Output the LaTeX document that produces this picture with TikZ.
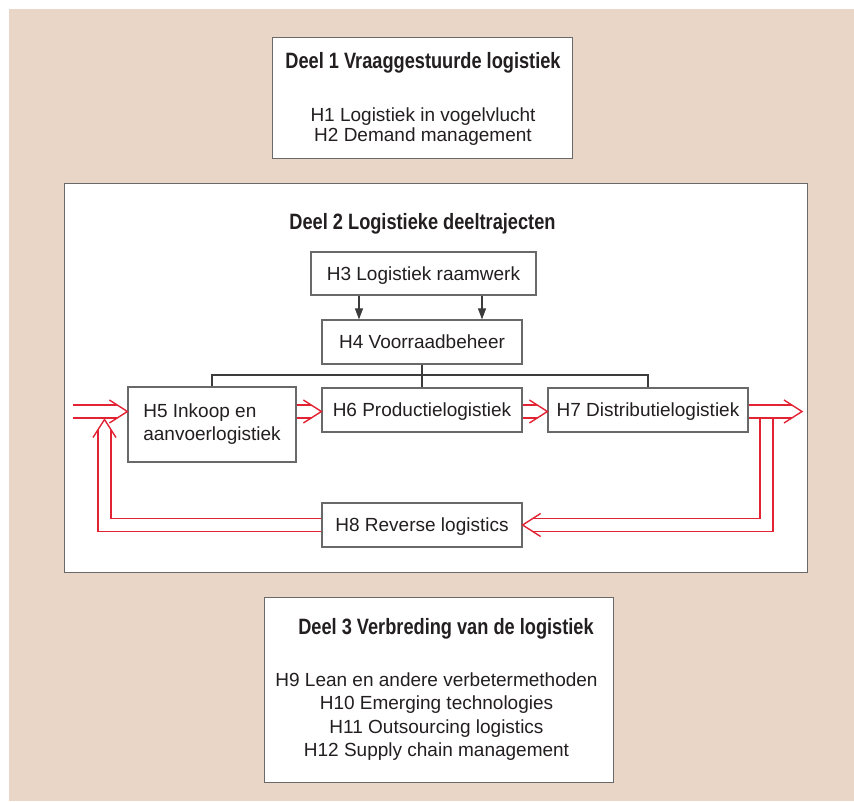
\documentclass[tikz,border=0pt]{standalone}
\usepackage{fontspec}
\setmainfont{Liberation Sans}
\newfontfamily\deelfont{Liberation Sans}[FakeStretch=0.82]
\usetikzlibrary{arrows.meta,positioning}
\definecolor{pagebeige}{RGB}{233,214,198}
\definecolor{flowred}{RGB}{226,35,52}
\definecolor{framegray}{RGB}{105,105,105}
\definecolor{linegray}{RGB}{60,60,60}
\definecolor{inkblack}{RGB}{35,31,32}
\tikzset{
  partframe/.style={draw=framegray, line width=1.3pt, fill=white,
    inner sep=0pt, anchor=north west},
  parttitle/.style={font=\deelfont\bfseries\fontsize{22.2}{26}\selectfont,
    text=inkblack, inner sep=0pt, anchor=base},
  parttext/.style={font=\fontsize{19}{20}\selectfont, text=inkblack,
    align=center, inner sep=0pt, anchor=north},
  chapterbox/.style={draw=framegray, line width=1.2pt, fill=white,
    inner sep=0pt, text=inkblack, font=\fontsize{19}{23}\selectfont,
    minimum width=200pt, minimum height=44pt},
  oneline/.style={text height=13.2pt, text depth=0pt},
  feed/.style={draw=linegray, line width=1.1pt},
  flow/.style={draw=flowred, line width=1.4pt, double=white,
    double distance=11.6pt, shorten >=10pt},
  flowhead/.pic={\draw[flowred, line width=1.4pt] (-18,-11.5) -- (0,0) -- (-18,11.5);}
}

\begin{document}
\begin{tikzpicture}[x=1pt,y=-1pt]
  % Page and part frames
  \useasboundingbox (0,0) rectangle (854,801);
  \fill[white] (0,0) rectangle (854,801);
  \fill[pagebeige] (9,9) rectangle (854,801);
  \node[partframe, minimum width=300pt, minimum height=121pt] (deel1) at (272,37) {};
  \node[partframe, minimum width=743pt, minimum height=389pt] (deel2) at (64,183) {};
  \node[partframe, minimum width=349pt, minimum height=185pt] (deel3) at (264,597) {};

  % Part 1
  \node[parttitle] (title1) at (423,68) {Deel 1 Vraaggestuurde logistiek};
  \node[parttext] (list1) at (423,107.5)
    {H1 Logistiek in vogelvlucht\\H2 Demand management};

  % Part 2
  \node[parttitle] (title2) at (422.5,229) {Deel 2 Logistieke deeltrajecten};
  \node[chapterbox, oneline, minimum width=225pt, minimum height=43pt] (h3)
    at (423.5,273.5) {H3 Logistiek raamwerk};
  \node[chapterbox, oneline] (h4) at (422,342) {H4 Voorraadbeheer};
  \node[chapterbox, align=left, minimum width=168pt, minimum height=75pt] (h5)
    at (212,424.5) {H5 Inkoop en\\aanvoerlogistiek};
  \node[chapterbox, oneline] (h6) at (422,410) {H6 Productielogistiek};
  \node[chapterbox, oneline] (h7) at (648,410) {H7 Distributielogistiek};
  \node[chapterbox, oneline] (h8) at (422,525) {H8 Reverse logistics};

  % Framework and inventory links
  \foreach \ax in {359,482}
    \draw[feed, -{Triangle[length=11pt,width=8pt]}] (h3.south -| \ax,0) -- (h4.north -| \ax,0);
  \coordinate (bus) at (422,375);
  \draw[feed] (h4.south) -- (h6.north);
  \draw[feed] (h5.north) |- (bus) -| (h7.north);

  % Goods flow
  \coordinate (inlet) at (73,411.5);
  \coordinate (outlet) at (802,411.5);
  \coordinate (split) at (766.5,418);
  \coordinate (backtip) at (104.5,419.5);
  \draw[flow] (split) |- (h8.east);
  \pic[rotate=180] at (h8.east) {flowhead};
  \draw[flow] (h8.west) -| (backtip);
  \pic[rotate=90] at (backtip) {flowhead};
  \draw[flow] (inlet) -- (h5.west |- inlet);
  \pic at (h5.west |- inlet) {flowhead};
  \draw[flow] (h5.east |- inlet) -- (h6.west |- inlet);
  \pic at (h6.west |- inlet) {flowhead};
  \draw[flow] (h6.east |- inlet) -- (h7.west |- inlet);
  \pic at (h7.west |- inlet) {flowhead};
  \draw[flow] (h7.east |- inlet) -- (outlet);
  \pic at (outlet) {flowhead};

  % Part 3
  \node[parttitle] (title3) at (446,634) {Deel 3 Verbreding van de logistiek};
  \node[parttext, font=\fontsize{19}{23.5}\selectfont] (list3) at (436.5,672.5)
    {H9 Lean en andere verbetermethoden\\H10 Emerging technologies\\
     H11 Outsourcing logistics\\H12 Supply chain management};
\end{tikzpicture}
\end{document}
